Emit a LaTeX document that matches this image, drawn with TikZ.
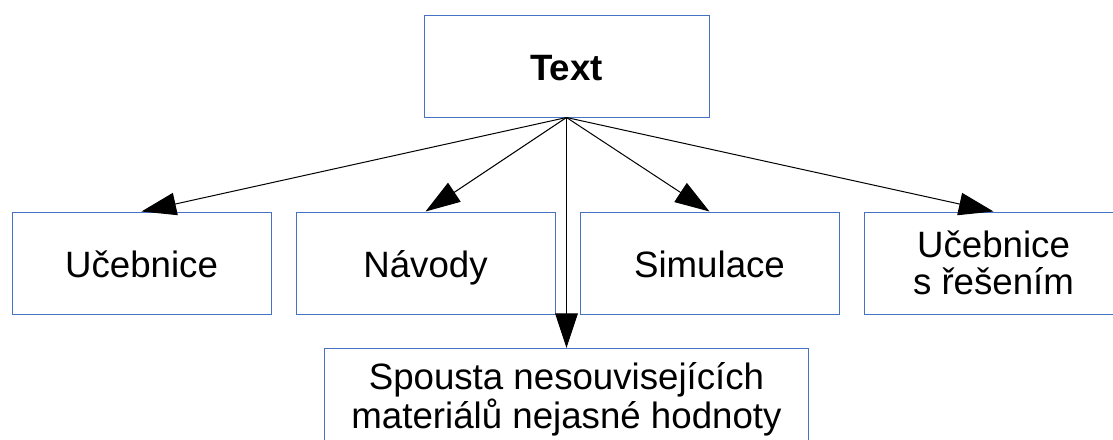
\documentclass[tikz,border=0pt]{standalone}
\usepackage{fontspec}
\setmainfont{Liberation Sans}
\usetikzlibrary{arrows.meta,positioning}
\definecolor{boxblue}{RGB}{70,114,196}

\begin{document}
\begin{tikzpicture}[
        x=0.75pt, y=-0.75pt,
        node distance=18pt,
        box/.style={rectangle, draw=boxblue, line width=0.75pt, align=center,
                    minimum width=194.25pt, minimum height=76.5pt, inner sep=0pt,
                    font=\fontsize{27.5}{28}\selectfont},
        oneline/.style={box, text height=25pt, text depth=4pt},
        arrow/.style={-{Triangle[length=26pt, width=17pt]}, line width=0.75pt}
    ]
        \useasboundingbox (0,0) rectangle (1113,439);
        \clip (0,0) rectangle (1113,439);
        \node[oneline, minimum width=213.75pt] (text) at (566.5,66) {\textbf{Text}};
        \node[oneline] (ucebnice) at (141.5,263) {Učebnice};
        \node[oneline, right=of ucebnice] (navody) {Návody};
        \node[oneline, right=of navody] (simulace) {Simulace};
        \node[box, right=of simulace] (reseni) {Učebnice\\s řešením};
        \node[box, minimum width=363pt, anchor=north, font=\fontsize{27.5}{29}\selectfont]
            (spousta) at (566.5,348) {Spousta nesouvisejících\\materiálů nejasné hodnoty};

        \draw[arrow] (text.south) -- (ucebnice.north);
        \draw[arrow] (text.south) -- (navody.north);
        \draw[arrow] (text.south) -- (simulace.north);
        \draw[arrow] (text.south) -- (reseni.north);
        \draw[arrow] (text.south) -- (spousta.north);
    \end{tikzpicture}
\end{document}
